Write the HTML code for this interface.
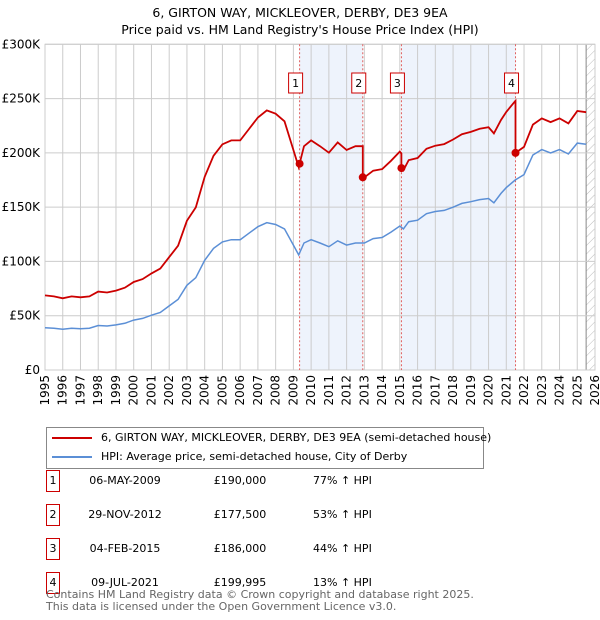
<!DOCTYPE html>
<html><head><meta charset="utf-8">
<style>
body{margin:0;background:#fff;font-family:"Liberation Sans","DejaVu Sans",sans-serif;}
#wrap{position:relative;width:600px;height:620px;overflow:hidden;}
svg text{font-family:"DejaVu Sans","Liberation Sans",sans-serif;}
.t11{font-size:11px;font-family:"DejaVu Sans","Liberation Sans",sans-serif;white-space:nowrap;}
</style></head>
<body>
<div id="wrap">
<svg id="chart" width="600" height="620">
<text x="300" y="17" text-anchor="middle" font-size="12.5" fill="#000">6, GIRTON WAY, MICKLEOVER, DERBY, DE3 9EA</text>
<text x="300" y="34" text-anchor="middle" font-size="12.5" fill="#000">Price paid vs. HM Land Registry's House Price Index (HPI)</text>
<defs><pattern id="hatch" width="6" height="6" patternUnits="userSpaceOnUse" patternTransform="rotate(45)"><line x1="0" y1="0" x2="0" y2="6" stroke="#bbb" stroke-width="1"/></pattern></defs>
<g id="plot"></g>
</svg>
<div class="t11" style="position:absolute;left:46px;top:427px;width:436px;height:40px;border:1px solid #888;">
 <div style="position:absolute;left:5px;top:9px;width:40px;height:2px;background:#cc0000"></div>
 <div style="position:absolute;left:54px;top:3px;">6, GIRTON WAY, MICKLEOVER, DERBY, DE3 9EA (semi-detached house)</div>
 <div style="position:absolute;left:5px;top:28px;width:40px;height:2px;background:#5b8fd6"></div>
 <div style="position:absolute;left:54px;top:22px;">HPI: Average price, semi-detached house, City of Derby</div>
</div>
<div id="table" class="t11"></div>
<div class="t11" style="position:absolute;left:46px;top:589px;line-height:11.5px;color:#666;">Contains HM Land Registry data © Crown copyright and database right 2025.<br>This data is licensed under the Open Government Licence v3.0.</div>
</div>
<script>
const hpiYears=[1995,1995.5,1996,1996.5,1997,1997.5,1998,1998.5,1999,1999.5,2000,2000.5,2001,2001.5,2002,2002.5,2003,2003.5,2004,2004.5,2005,2005.5,2006,2006.5,2007,2007.5,2008,2008.5,2009,2009.3,2009.6,2010,2010.5,2011,2011.5,2012,2012.5,2013,2013.5,2014,2014.5,2015,2015.2,2015.5,2016,2016.5,2017,2017.5,2018,2018.5,2019,2019.5,2020,2020.3,2020.7,2021,2021.5,2022,2022.5,2023,2023.5,2024,2024.5,2025,2025.5];
const hpiValues=[39,38.5,37.5,38.5,38,38.5,41,40.5,41.5,43,46,47.5,50.5,53,59,65,78,85,101,112,118,120,120,126,132,135.7,134,130,115,106,117,120,117,113.6,119,115,117,117,121,122,127,132.6,130,136.6,138,144,146,147,150,153.5,155,157,158,154,162.7,168,175,180,198,203,200,203,199,209,208];
const saleDates=[2009.35,2012.91,2015.09,2021.52];
const salePrices=[190000,177500,186000,199995];
const saleLabels=["1","2","3","4"];
const saleDateText=["06-MAY-2009","29-NOV-2012","04-FEB-2015","09-JUL-2021"];
const salePriceText=["£190,000","£177,500","£186,000","£199,995"];
const saleHpiText=["77% ↑ HPI","53% ↑ HPI","44% ↑ HPI","13% ↑ HPI"];
const yTicks=[0,50,100,150,200,250,300];
const yTickLabels=["£0","£50K","£100K","£150K","£200K","£250K","£300K"];
const xTicks=[1995,1996,1997,1998,1999,2000,2001,2002,2003,2004,2005,2006,2007,2008,2009,2010,2011,2012,2013,2014,2015,2016,2017,2018,2019,2020,2021,2022,2023,2024,2025,2026];

const X0=45,X1=595,Y0=370,Y1=44.3;
const xs=t=>X0+(t-1995)/(2026-1995)*(X1-X0);
const ys=v=>Y0-v/300*(Y0-Y1);
const NS="http://www.w3.org/2000/svg";
const g=document.getElementById('plot');
function mk(tag,attrs,parent){const e=document.createElementNS(NS,tag);for(const k in attrs)e.setAttribute(k,attrs[k]);(parent||g).appendChild(e);return e;}
function hpiAt(t){for(let i=0;i<hpiYears.length-1;i++){if(t>=hpiYears[i]&&t<=hpiYears[i+1]){const f=(t-hpiYears[i])/(hpiYears[i+1]-hpiYears[i]);return hpiValues[i]+f*(hpiValues[i+1]-hpiValues[i]);}}return hpiValues[hpiValues.length-1];}
const factors=saleDates.map((d,i)=>salePrices[i]/1000/hpiAt(d));

for(let i=0;i<saleDates.length-1;i+=2){
 const r=mk('rect',{x:xs(saleDates[i]),y:Y1,width:xs(saleDates[i+1])-xs(saleDates[i]),height:Y0-Y1,fill:'#eef3fc'});
 
 
}
const hz=mk('rect',{x:xs(2025.5),y:Y1,width:X1-xs(2025.5),height:Y0-Y1,fill:'url(#hatch)'});


mk('line',{x1:xs(2025.5),y1:Y1,x2:xs(2025.5),y2:Y0,stroke:'#888','stroke-width':1});
yTicks.forEach((v,i)=>{
 const l=mk('line',{x1:X0,x2:X1,y1:ys(v),y2:ys(v),stroke:'#cccccc','stroke-width':1});
 
 
 const t=mk('text',{x:40,y:ys(v)+4,'text-anchor':'end','font-size':12,fill:'#000'});
 t.textContent=yTickLabels[i];
 
 
});
xTicks.forEach(yr=>{
 const l=mk('line',{x1:xs(yr),x2:xs(yr),y1:Y1,y2:Y0,stroke:'#cccccc','stroke-width':1});
 
 
 const t=mk('text',{x:0,y:0,'text-anchor':'end','font-size':12,fill:'#000',transform:`translate(${xs(yr)+4},375) rotate(-90)`});
 t.textContent=yr;
 
 
});
mk('rect',{x:X0,y:Y1,width:X1-X0,height:Y0-Y1,fill:'none',stroke:'#cccccc','stroke-width':1});
saleDates.forEach(d=>{
 const l=mk('line',{x1:xs(d),x2:xs(d),y1:Y1,y2:Y0,stroke:'#e06060','stroke-width':1,'stroke-dasharray':'2,2'});
 
 
});
let hp=hpiYears.map((t,i)=>`${i?'L':'M'}${xs(t).toFixed(1)},${ys(hpiValues[i]).toFixed(1)}`).join('');
const hl=mk('path',{d:hp,fill:'none',stroke:'#5b8fd6','stroke-width':1.5});


function factorAt(t){let f=factors[0];saleDates.forEach((d,i)=>{if(t>=d)f=factors[i];});return f;}
const pts=[];
const times=hpiYears.concat(saleDates).sort((a,b)=>a-b);
times.forEach(t=>{
 const si=saleDates.indexOf(t);
 if(si>0){pts.push([t,hpiAt(t)*factors[si-1]]);}
 pts.push([t,hpiAt(t)*factorAt(t)]);
});
let rp=pts.map((p,i)=>`${i?'L':'M'}${xs(p[0]).toFixed(1)},${ys(p[1]).toFixed(1)}`).join('');
const rl=mk('path',{d:rp,fill:'none',stroke:'#cc0000','stroke-width':1.8});


saleDates.forEach((d,i)=>{
 const c=mk('circle',{cx:xs(d),cy:ys(salePrices[i]/1000),r:4,fill:'#cc0000'});
 
 
 const b=mk('rect',{x:xs(d)-11,y:73,width:14,height:20,fill:'#fff',stroke:'#cc0000','stroke-width':1});
 
 
 const t=mk('text',{x:xs(d)-4,y:87,'text-anchor':'middle','font-size':11,fill:'#000'});
 t.textContent=saleLabels[i];
 
 
});
const tb=document.getElementById('table');
const rowY=[470,504,538,572];
saleDates.forEach((d,i)=>{
 const row=document.createElement('div');
 
 
 row.style.cssText=`position:absolute;left:0;top:${rowY[i]}px;width:600px;height:22px;`;
 row.innerHTML=`<div style="position:absolute;left:46px;top:0;width:12px;height:20px;border:1px solid #cc0000;text-align:center;line-height:20px;">${saleLabels[i]}</div>
 <div style="position:absolute;left:65px;width:120px;text-align:center;line-height:22px;">${saleDateText[i]}</div>
 <div style="position:absolute;left:200px;width:80px;text-align:center;line-height:22px;">${salePriceText[i]}</div>
 <div style="position:absolute;left:313px;line-height:22px;">${saleHpiText[i]}</div>`;
 tb.appendChild(row);
});
</script>
</body></html>
